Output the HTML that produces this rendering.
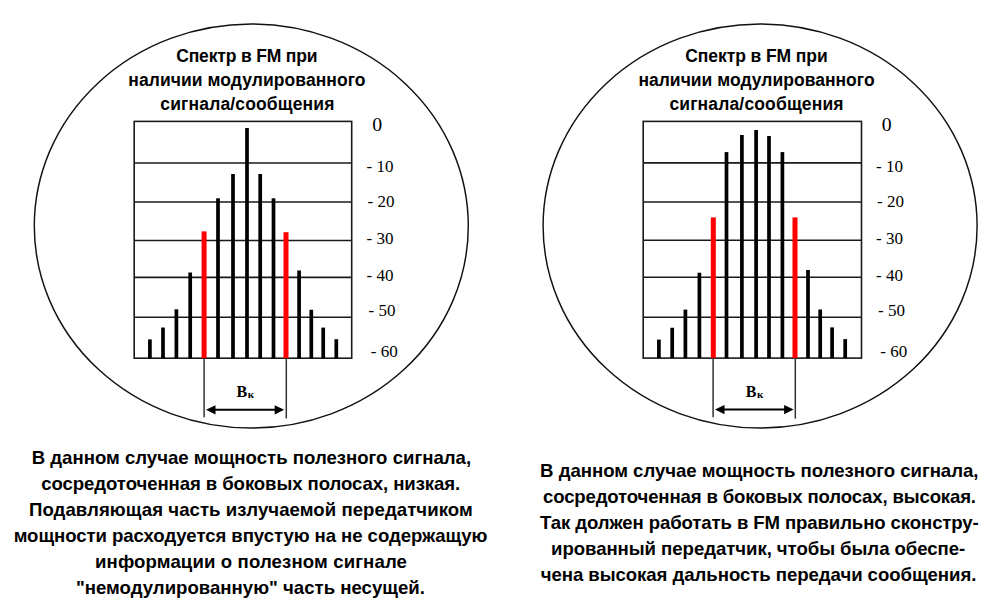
<!DOCTYPE html>
<html><head><meta charset="utf-8"><style>
html,body{margin:0;padding:0;background:#fff;}
body{width:1000px;height:600px;position:relative;overflow:hidden;}
svg{position:absolute;left:0;top:0;}
.lab{position:absolute;width:100px;text-align:center;font-family:"Liberation Serif",serif;line-height:1;color:#000;white-space:pre;}
.tt{position:absolute;width:400px;text-align:center;font-family:"Liberation Sans",sans-serif;font-weight:bold;font-size:17px;line-height:1;color:#000;white-space:pre;}
.bt{position:absolute;width:520px;text-align:center;font-family:"Liberation Sans",sans-serif;font-weight:bold;line-height:1;color:#000;white-space:pre;}
.tx{position:absolute;font-family:"Liberation Sans",sans-serif;font-weight:bold;line-height:1;white-space:pre;color:#000;}
.bk{position:absolute;width:80px;text-align:center;font-family:"Liberation Serif",serif;font-weight:bold;font-size:16px;line-height:1;color:#000;white-space:pre;}
</style></head><body>
<svg width="1000" height="600" viewBox="0 0 1000 600">
<ellipse cx="251.3" cy="226" rx="217" ry="202" fill="none" stroke="#111" stroke-width="1.45"/>
<ellipse cx="760.1" cy="226" rx="217" ry="202" fill="none" stroke="#111" stroke-width="1.45"/>
<rect x="134.2" y="121.4" width="217.5" height="236.79999999999998" fill="none" stroke="#1a1a1a" stroke-width="1.6"/>
<line x1="134.2" y1="163" x2="351.7" y2="163" stroke="#1a1a1a" stroke-width="1.6"/>
<line x1="134.2" y1="202" x2="351.7" y2="202" stroke="#1a1a1a" stroke-width="1.6"/>
<line x1="134.2" y1="240.5" x2="351.7" y2="240.5" stroke="#1a1a1a" stroke-width="1.6"/>
<line x1="134.2" y1="277.4" x2="351.7" y2="277.4" stroke="#1a1a1a" stroke-width="1.6"/>
<line x1="134.2" y1="317.3" x2="351.7" y2="317.3" stroke="#1a1a1a" stroke-width="1.6"/>
<rect x="148.05" y="339.4" width="3.7" height="18.80" fill="#000"/>
<rect x="161.15" y="327.5" width="3.7" height="30.70" fill="#000"/>
<rect x="174.55" y="309.3" width="3.7" height="48.90" fill="#000"/>
<rect x="188.35" y="272.5" width="3.7" height="85.70" fill="#000"/>
<rect x="201.60" y="231.4" width="5" height="126.80" fill="#ff0000"/>
<rect x="216.15" y="198.3" width="3.7" height="159.90" fill="#000"/>
<rect x="231.15" y="174" width="3.7" height="184.20" fill="#000"/>
<rect x="245.15" y="128" width="3.7" height="230.20" fill="#000"/>
<rect x="258.35" y="174" width="3.7" height="184.20" fill="#000"/>
<rect x="271.65" y="198.3" width="3.7" height="159.90" fill="#000"/>
<rect x="283.50" y="232.2" width="5" height="126.00" fill="#ff0000"/>
<rect x="297.25" y="270.5" width="3.7" height="87.70" fill="#000"/>
<rect x="309.45" y="309.75" width="3.7" height="48.45" fill="#000"/>
<rect x="321.35" y="327.6" width="3.7" height="30.60" fill="#000"/>
<rect x="334.45" y="339.2" width="3.7" height="19.00" fill="#000"/>
<line x1="204.1" y1="358.2" x2="204.1" y2="417.2" stroke="#333" stroke-width="1.5"/>
<line x1="286.3" y1="358.2" x2="286.3" y2="418.5" stroke="#333" stroke-width="1.5"/>
<line x1="212" y1="409.8" x2="278.2" y2="409.8" stroke="#000" stroke-width="2"/>
<path d="M206 409.8 L215.5 405.2 L215.5 414.40000000000003 Z" fill="#000"/>
<path d="M284.2 409.8 L274.7 405.2 L274.7 414.40000000000003 Z" fill="#000"/>
<rect x="643.2" y="121.4" width="218.29999999999995" height="236.70000000000002" fill="none" stroke="#1a1a1a" stroke-width="1.6"/>
<line x1="643.2" y1="162.9" x2="861.5" y2="162.9" stroke="#1a1a1a" stroke-width="1.6"/>
<line x1="643.2" y1="202" x2="861.5" y2="202" stroke="#1a1a1a" stroke-width="1.6"/>
<line x1="643.2" y1="240.3" x2="861.5" y2="240.3" stroke="#1a1a1a" stroke-width="1.6"/>
<line x1="643.2" y1="277.2" x2="861.5" y2="277.2" stroke="#1a1a1a" stroke-width="1.6"/>
<line x1="643.2" y1="317.2" x2="861.5" y2="317.2" stroke="#1a1a1a" stroke-width="1.6"/>
<rect x="657.05" y="339.6" width="3.7" height="18.50" fill="#000"/>
<rect x="670.35" y="327.75" width="3.7" height="30.35" fill="#000"/>
<rect x="683.55" y="309.6" width="3.7" height="48.50" fill="#000"/>
<rect x="697.55" y="272.7" width="3.7" height="85.40" fill="#000"/>
<rect x="710.80" y="217.4" width="5" height="140.70" fill="#ff0000"/>
<rect x="724.65" y="152.1" width="3.7" height="206.00" fill="#000"/>
<rect x="740.05" y="135" width="3.7" height="223.10" fill="#000"/>
<rect x="754.25" y="130" width="3.7" height="228.10" fill="#000"/>
<rect x="767.15" y="136" width="3.7" height="222.10" fill="#000"/>
<rect x="780.55" y="152.1" width="3.7" height="206.00" fill="#000"/>
<rect x="792.50" y="217.4" width="5" height="140.70" fill="#ff0000"/>
<rect x="806.15" y="270" width="3.7" height="88.10" fill="#000"/>
<rect x="818.35" y="309.5" width="3.7" height="48.60" fill="#000"/>
<rect x="830.25" y="327.4" width="3.7" height="30.70" fill="#000"/>
<rect x="843.35" y="339.1" width="3.7" height="19.00" fill="#000"/>
<line x1="713.1" y1="358.1" x2="713.1" y2="417.2" stroke="#333" stroke-width="1.5"/>
<line x1="795.3" y1="358.1" x2="795.3" y2="418.6" stroke="#333" stroke-width="1.5"/>
<line x1="721" y1="409.6" x2="787.6" y2="409.6" stroke="#000" stroke-width="2"/>
<path d="M715 409.6 L724.5 405.0 L724.5 414.20000000000005 Z" fill="#000"/>
<path d="M793.6 409.6 L784.1 405.0 L784.1 414.20000000000005 Z" fill="#000"/>
</svg>
<div class="tx" style="left:176.20px;top:47.91px;font-size:17.5px;letter-spacing:-0.157px">Спектр в FM при</div>
<div class="tx" style="left:128.30px;top:71.80px;font-size:17.5px;letter-spacing:0.064px">наличии модулированного</div>
<div class="tx" style="left:160.30px;top:96.41px;font-size:17.5px;letter-spacing:0.150px">сигнала/сообщения</div>
<div class="tx" style="left:685.30px;top:47.91px;font-size:17.5px;letter-spacing:-0.086px">Спектр в FM при</div>
<div class="tx" style="left:638.40px;top:71.80px;font-size:17.5px;letter-spacing:0.018px">наличии модулированного</div>
<div class="tx" style="left:669.40px;top:96.41px;font-size:17.5px;letter-spacing:0.150px">сигнала/сообщения</div>
<div class="tx" style="left:31.70px;top:448.76px;font-size:18.6px;letter-spacing:0.000px">В данном случае мощность полезного сигнала,</div>
<div class="tx" style="left:41.30px;top:475.01px;font-size:18.6px;letter-spacing:-0.088px">сосредоточенная в боковых полосах, низкая.</div>
<div class="tx" style="left:29.00px;top:500.60px;font-size:18.6px;letter-spacing:0.055px">Подавляющая часть излучаемой передатчиком</div>
<div class="tx" style="left:13.70px;top:527.01px;font-size:18.6px;letter-spacing:-0.073px">мощности расходуется впустую на не содержащую</div>
<div class="tx" style="left:95.00px;top:553.01px;font-size:18.6px;letter-spacing:0.121px">информации о полезном сигнале</div>
<div class="tx" style="left:75.90px;top:579.01px;font-size:18.6px;letter-spacing:0.006px">"немодулированную" часть несущей.</div>
<div class="tx" style="left:540.10px;top:462.01px;font-size:18.6px;letter-spacing:-0.024px">В данном случае мощность полезного сигнала,</div>
<div class="tx" style="left:543.00px;top:488.01px;font-size:18.6px;letter-spacing:-0.157px">сосредоточенная в боковых полосах, высокая.</div>
<div class="tx" style="left:540.00px;top:514.01px;font-size:18.6px;letter-spacing:-0.112px">Так должен работать в FM правильно сконстру-</div>
<div class="tx" style="left:551.00px;top:540.01px;font-size:18.6px;letter-spacing:-0.051px">ированный передатчик, чтобы была обеспе-</div>
<div class="tx" style="left:540.70px;top:566.01px;font-size:18.6px;letter-spacing:-0.054px">чена высокая дальность передачи сообщения.</div>
<div class="lab" style="left:327.2px;top:114.66px;font-size:19.8px;">0</div>
<div class="lab" style="left:330px;top:157.75px;font-size:17px;">- 10</div>
<div class="lab" style="left:331px;top:193.45px;font-size:17px;">- 20</div>
<div class="lab" style="left:330px;top:230.35px;font-size:17px;">- 30</div>
<div class="lab" style="left:330px;top:267.35px;font-size:17px;">- 40</div>
<div class="lab" style="left:332px;top:302.35px;font-size:17px;">- 50</div>
<div class="lab" style="left:334.3px;top:342.55px;font-size:17px;">- 60</div>
<div class="lab" style="left:836.7px;top:114.66px;font-size:19.8px;">0</div>
<div class="lab" style="left:839.5px;top:157.75px;font-size:17px;">- 10</div>
<div class="lab" style="left:840.5px;top:193.45px;font-size:17px;">- 20</div>
<div class="lab" style="left:839.5px;top:230.35px;font-size:17px;">- 30</div>
<div class="lab" style="left:839.5px;top:267.35px;font-size:17px;">- 40</div>
<div class="lab" style="left:841.5px;top:302.35px;font-size:17px;">- 50</div>
<div class="lab" style="left:843.8px;top:342.55px;font-size:17px;">- 60</div>
<div class="bk" style="left:205.3px;top:383.84px;">B<span style="font-size:11px;vertical-align:-1.5px;margin-left:0.5px">к</span></div>
<div class="bk" style="left:714.5px;top:383.84px;">B<span style="font-size:11px;vertical-align:-1.5px;margin-left:0.5px">к</span></div>

</body></html>
